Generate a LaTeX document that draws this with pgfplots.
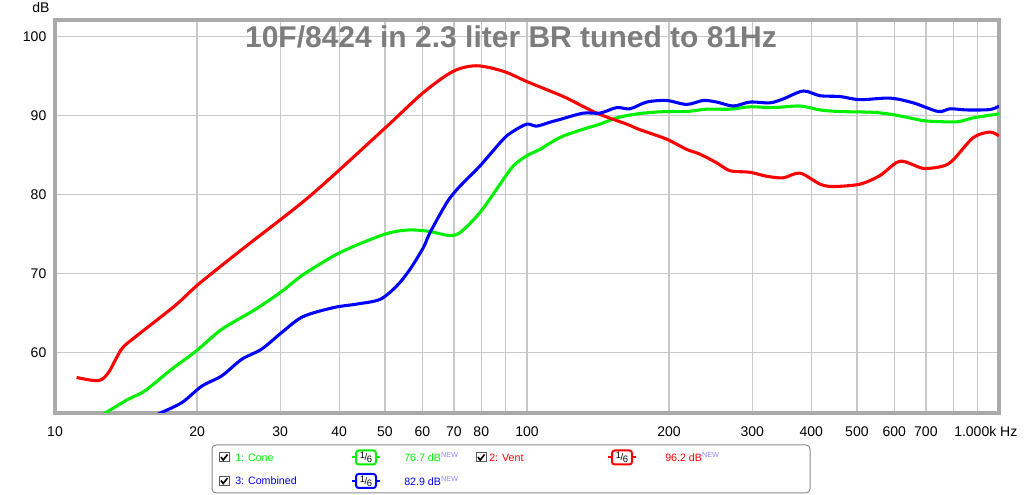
\documentclass[border=0pt]{standalone}
\usepackage{fontspec}
\setmainfont{Liberation Sans}
\usepackage{pgfplots}
\pgfplotsset{compat=1.18}

\definecolor{conegreen}{RGB}{0,240,0}
\definecolor{ventred}{RGB}{255,0,0}
\definecolor{combblue}{RGB}{0,0,255}
\definecolor{gridgray}{RGB}{200,200,200}
\definecolor{framegray}{RGB}{170,170,170}
\definecolor{titlegray}{RGB}{125,125,125}
\definecolor{newblue}{RGB}{140,140,255}

\newcommand{\lfont}{\fontsize{8}{9}\selectfont}
% checkbox at (x,y) in pixel units
\newcommand{\chk}[2]{%
  \draw[black!65, line width=0.75pt, fill=white] (#1-5,#2-4.5) rectangle (#1+5,#2+4.5);
  \draw[line width=1.2pt] (#1-3,#2+0.5) -- (#1-0.8,#2-2.5) -- (#1+3.5,#2+3);}
% smoothing icon
\newcommand{\smo}[3]{%
  \draw[#3, line width=1.5pt] (#1-14,#2) -- (#1+14,#2);
  \node[draw=#3, line width=1.5pt, fill=white, rounded corners=2pt, minimum width=15pt,
        minimum height=10.5pt, inner sep=0pt, font=\fontsize{7}{7}\selectfont]
        at (#1,#2) {\raisebox{1.5pt}{1}\kern-0.3pt/\kern-0.3pt\raisebox{-1.5pt}{6}};}
\newcommand{\new}{\raisebox{3pt}{\fontsize{5.5}{6}\selectfont\color{newblue}NEW}}

\begin{document}
\begin{tikzpicture}[x=0.75pt,y=0.75pt]
\useasboundingbox (0,0) rectangle (1024,495);
\begin{axis}[
  at={(41.25pt,61.5pt)}, anchor=south west, scale only axis,
  width=708pt, height=294.75pt,
  xmode=log, xmin=10, xmax=1000, ymin=52.3, ymax=102.1,
  xtick={10,20,30,40,50,60,70,80,90,100,200,300,400,500,600,700,800,900,1000},
  xticklabels={10,20,30,40,50,60,70,80,,100,200,300,400,500,600,700,,,},
  ytick={60,70,80,90,100},
  yticklabels={60,70,80,90,100},
  grid=major,
  major grid style={gridgray, line width=1pt},
  major tick length=0pt,
  axis line style={framegray, line width=3pt},
  tick label style={font=\fontsize{10.5}{12}\selectfont, text=black},
  xticklabel style={yshift=-7pt},
  yticklabel style={xshift=-3pt},
  clip=true,
]
\addplot[conegreen, line width=2.3pt, smooth] coordinates {
(12.7,52.2) (14.3,54.05) (15.5,55.1) (17.67,57.85) (19.96,60.2) (22.55,62.9)
(26.53,65.4) (30.22,67.7) (33.5,69.8) (39.5,72.4) (45.75,74.1) (51.25,75.15)
(56.5,75.5) (62.3,75.3) (68.1,74.8) (72.1,75.15) (79.5,77.7) (87.7,81.3)
(93.5,83.6) (99.9,84.9) (106.5,85.7) (111.9,86.5) (119.4,87.4) (133.8,88.4)
(142.8,88.9) (154.9,89.7) (173.5,90.25) (197.6,90.5) (217.9,90.5) (240.3,90.8)
(269.2,90.8) (296.9,91.1) (332.4,91.0) (378.8,91.2) (417.7,90.7) (460.4,90.5)
(541.6,90.4) (597.2,90.1) (658.2,89.6) (702.8,89.3) (813.6,89.2) (882.1,89.7)
(1000,90.2)
};
\addplot[ventred, line width=2.3pt, smooth] coordinates {
(11.11,56.8) (12.35,56.4) (12.97,57.4) (13.84,60.4) (14.77,61.9) (17.96,65.9)
(20.12,68.6) (24.86,73.0) (34.7,79.8) (49.6,88.2) (60.3,92.9)
(69.8,95.6) (78.2,96.3) (89.1,95.6) (99.9,94.3) (111.9,93.1) (121.4,92.2)
(140.5,90.3) (162.7,88.9) (173.5,88.2) (197.6,87.0) (217.9,85.7) (232.5,85.1)
(252.3,84.0) (269.2,83.0) (296.9,82.8) (321.9,82.3) (349.1,82.1) (378.8,82.7)
(417.7,81.3) (445.6,81.0) (507.5,81.3) (559.8,82.4) (617.1,84.2) (691.3,83.3)
(762,83.6) (800.5,84.4) (882.1,87.2) (957,87.9) (1000,87.4)
};
\addplot[combblue, line width=2.3pt, smooth] coordinates {
(16.55,52.2) (18.55,53.6) (20.46,55.7) (22.55,57.0) (24.86,59.1) (27.41,60.4)
(30.22,62.5) (33.5,64.5) (38.87,65.65) (43.58,66.1) (48.83,66.7) (52.97,68.4)
(56.5,70.5) (60.3,73.25) (62.3,75.15) (67.6,78.95) (71.0,80.6) (74.5,81.9)
(79.5,83.6) (89.1,87.0) (93.5,88.0) (99.9,88.9) (104.8,88.65) (111.9,89.15)
(117.5,89.5) (131.6,90.3) (142.8,90.3) (154.9,91.0) (165.3,90.85) (179.3,91.7)
(197.6,91.9) (217.9,91.4) (236.3,91.9) (252.3,91.7) (273.6,91.2) (296.9,91.7)
(327.2,91.6) (349.1,92.1) (384.9,93.1) (417.7,92.5) (460.4,92.4) (507.5,92.0)
(587.5,92.2) (658.2,91.6) (743.6,90.5) (787.4,90.85) (854.3,90.7) (957,90.75)
(1000,91.2)
};
\end{axis}
% title, axis unit labels
\node[font=\bfseries\fontsize{22.5}{24}\selectfont, text=titlegray] at (511,458) {10F/8424 in 2.3 liter BR tuned to 81Hz};
\node[font=\fontsize{10.5}{12}\selectfont] at (41,487) {dB};
\node[font=\fontsize{10.5}{12}\selectfont, anchor=west, inner sep=0pt] at (954,63) {1.000k Hz};
% legend box
\draw[rounded corners=3pt, draw=black!45, line width=0.75pt] (212,2) rectangle (810,50);
\chk{224}{37.5}
\node[anchor=west, text=conegreen, font=\lfont, inner sep=0pt] at (235,37.5) {1: Cone};
\smo{366}{37.5}{conegreen}
\node[anchor=west, text=conegreen, font=\lfont, inner sep=0pt] at (404,37.5) {76.7 dB\new};
\chk{481}{37.5}
\node[anchor=west, text=ventred, font=\lfont, inner sep=0pt] at (489,37.5) {2: Vent};
\smo{622}{37.5}{ventred}
\node[anchor=west, text=ventred, font=\lfont, inner sep=0pt] at (665,37.5) {96.2 dB\new};
\chk{224}{14}
\node[anchor=west, text=combblue, font=\lfont, inner sep=0pt] at (235,14) {3: Combined};
\smo{366}{14}{combblue}
\node[anchor=west, text=combblue, font=\lfont, inner sep=0pt] at (404,14) {82.9 dB\new};
\end{tikzpicture}
\end{document}
